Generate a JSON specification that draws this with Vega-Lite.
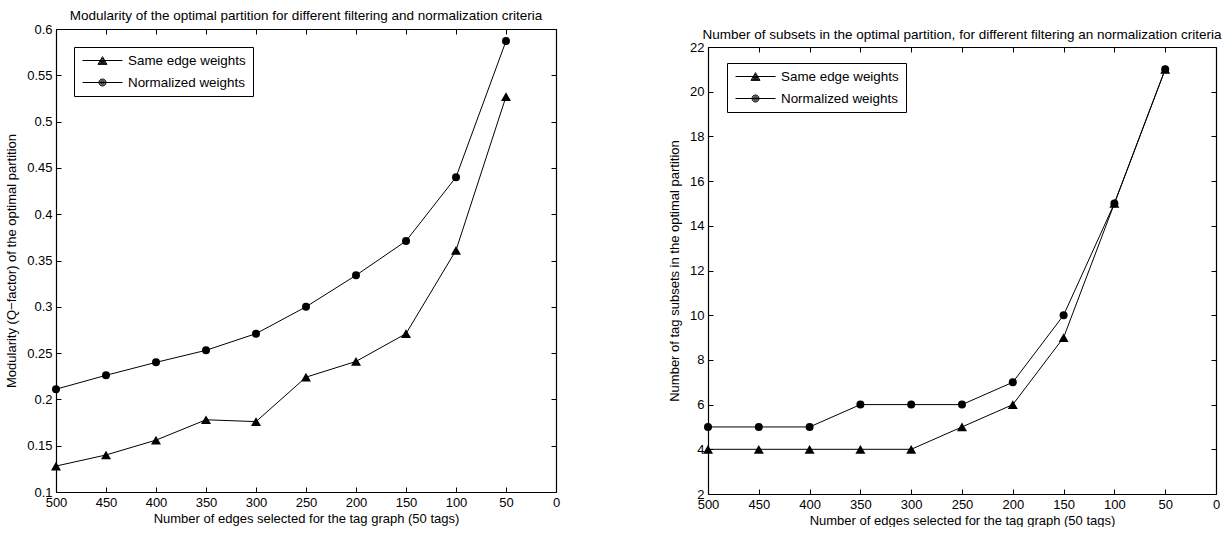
{
  "$schema": "https://vega.github.io/schema/vega-lite/v6.json",
  "background": "white",
  "padding": {"left": 5, "top": 8, "right": 0, "bottom": 0},
  "spacing": 108,
  "resolve": {"scale": {"shape": "independent"}, "legend": {"shape": "independent"}},
  "config": {
    "font": "Liberation Sans",
    "view": {"stroke": null},
    "axis": {
      "domain": true, "domainColor": "black", "domainWidth": 1.2, "grid": false,
      "tickSize": -5, "tickColor": "black", "tickWidth": 1,
      "labelFontSize": 13, "labelColor": "black", "labelPadding": 9,
      "labelFlush": false, "labelOverlap": false,
      "titleFontSize": 13, "titleFontWeight": "normal", "titleColor": "black", "titlePadding": 3
    },
    "axisY": {"titlePadding": 8},
    "title": {"fontSize": 13.5, "fontWeight": "normal", "color": "black", "offset": 1, "anchor": "middle"},
    "legend": {
      "orient": "none", "direction": "vertical",
      "strokeColor": "black", "fillColor": "white", "padding": 6.5, "rowPadding": 8,
      "symbolSize": 169, "symbolOffset": 15, "labelOffset": 18.5,
      "symbolFillColor": "black", "symbolStrokeColor": "black", "symbolStrokeWidth": 1, "symbolOpacity": 1,
      "labelFontSize": 13.4, "labelColor": "black", "labelLimit": 300
    }
  },
  "hconcat": [
    {
      "width": 500,
      "height": 463,
      "title": "Modularity of the optimal partition for different filtering and normalization criteria",
      "data": {"values": [
        {"edges": 500, "q": 0.128, "series": "Same edge weights"},
        {"edges": 450, "q": 0.140, "series": "Same edge weights"},
        {"edges": 400, "q": 0.156, "series": "Same edge weights"},
        {"edges": 350, "q": 0.178, "series": "Same edge weights"},
        {"edges": 300, "q": 0.176, "series": "Same edge weights"},
        {"edges": 250, "q": 0.224, "series": "Same edge weights"},
        {"edges": 200, "q": 0.241, "series": "Same edge weights"},
        {"edges": 150, "q": 0.271, "series": "Same edge weights"},
        {"edges": 100, "q": 0.361, "series": "Same edge weights"},
        {"edges": 50, "q": 0.527, "series": "Same edge weights"},
        {"edges": 500, "q": 0.211, "series": "Normalized weights"},
        {"edges": 450, "q": 0.226, "series": "Normalized weights"},
        {"edges": 400, "q": 0.240, "series": "Normalized weights"},
        {"edges": 350, "q": 0.253, "series": "Normalized weights"},
        {"edges": 300, "q": 0.271, "series": "Normalized weights"},
        {"edges": 250, "q": 0.300, "series": "Normalized weights"},
        {"edges": 200, "q": 0.334, "series": "Normalized weights"},
        {"edges": 150, "q": 0.371, "series": "Normalized weights"},
        {"edges": 100, "q": 0.440, "series": "Normalized weights"},
        {"edges": 50, "q": 0.587, "series": "Normalized weights"}
      ]},
      "layer": [
        {
          "mark": {"type": "line", "color": "black", "strokeWidth": 1},
          "encoding": {
            "x": {"field": "edges", "type": "quantitative",
                  "scale": {"domain": [0, 500], "reverse": true, "nice": false},
                  "axis": {"values": [0, 50, 100, 150, 200, 250, 300, 350, 400, 450, 500], "title": "Number of edges selected for the tag graph (50 tags)"}},
            "y": {"field": "q", "type": "quantitative",
                  "scale": {"domain": [0.1, 0.6], "nice": false, "zero": false},
                  "axis": {"values": [0.1, 0.15, 0.2, 0.25, 0.3, 0.35, 0.4, 0.45, 0.5, 0.55, 0.6], "format": ".2~f", "title": "Modularity (Q\u2212factor) of the optimal partition"}},
            "detail": {"field": "series"}
          }
        },
        {
          "transform": [{"filter": "datum.series === 'Same edge weights'"}],
          "mark": {"type": "point", "shape": "triangle-up", "filled": true, "opacity": 1, "color": "black", "strokeWidth": 0, "size": 100},
          "encoding": {
            "x": {"field": "edges", "type": "quantitative",
                  "axis": {"orient": "top", "labels": false, "title": null, "values": [0, 50, 100, 150, 200, 250, 300, 350, 400, 450, 500]}},
            "y": {"field": "q", "type": "quantitative",
                  "axis": {"orient": "right", "labels": false, "title": null, "values": [0.1, 0.15, 0.2, 0.25, 0.3, 0.35, 0.4, 0.45, 0.5, 0.55, 0.6]}}
          }
        },
        {
          "transform": [{"filter": "datum.series === 'Normalized weights'"}],
          "mark": {"type": "point", "shape": "circle", "filled": true, "opacity": 1, "color": "black", "strokeWidth": 0, "size": 64},
          "encoding": {
            "x": {"field": "edges", "type": "quantitative", "axis": null},
            "y": {"field": "q", "type": "quantitative", "axis": null}
          }
        },
        {
          "mark": {"type": "point", "filled": false, "opacity": 1, "color": "black", "strokeWidth": 1, "size": 0},
          "encoding": {
            "x": {"field": "edges", "type": "quantitative", "axis": null},
            "y": {"field": "q", "type": "quantitative", "axis": null},
            "shape": {"field": "series", "type": "nominal",
                      "scale": {"domain": ["Same edge weights", "Normalized weights"],
                                "range": ["M-3.077,0L3.077,0M0,-0.6L0.69,0.6L-0.69,0.6ZM0,-0.36L0.483,0.48L-0.483,0.48ZM0,-0.12L0.276,0.36L-0.276,0.36ZM0,0.08L0.104,0.26L-0.104,0.26Z",
                                          "M-3.077,0L3.077,0M0.54,0A0.54,0.54,0,1,1,-0.54,0A0.54,0.54,0,1,1,0.54,0ZM0.39,0A0.39,0.39,0,1,1,-0.39,0A0.39,0.39,0,1,1,0.39,0ZM0.23,0A0.23,0.23,0,1,1,-0.23,0A0.23,0.23,0,1,1,0.23,0ZM0.08,0A0.08,0.08,0,1,1,-0.08,0A0.08,0.08,0,1,1,0.08,0Z"]},
                      "legend": {"title": null, "legendX": 18, "legendY": 18}}
          }
        }
      ],
      "resolve": {"axis": {"x": "independent", "y": "independent"}}
    },
    {
      "width": 508,
      "height": 465,
      "title": {"text": "Number of subsets in the optimal partition, for different filtering an normalization criteria", "offset": -12},
      "data": {"values": [
        {"edges": 500, "n": 4, "series": "Same edge weights"},
        {"edges": 450, "n": 4, "series": "Same edge weights"},
        {"edges": 400, "n": 4, "series": "Same edge weights"},
        {"edges": 350, "n": 4, "series": "Same edge weights"},
        {"edges": 300, "n": 4, "series": "Same edge weights"},
        {"edges": 250, "n": 5, "series": "Same edge weights"},
        {"edges": 200, "n": 6, "series": "Same edge weights"},
        {"edges": 150, "n": 9, "series": "Same edge weights"},
        {"edges": 100, "n": 15, "series": "Same edge weights"},
        {"edges": 50, "n": 21, "series": "Same edge weights"},
        {"edges": 500, "n": 5, "series": "Normalized weights"},
        {"edges": 450, "n": 5, "series": "Normalized weights"},
        {"edges": 400, "n": 5, "series": "Normalized weights"},
        {"edges": 350, "n": 6, "series": "Normalized weights"},
        {"edges": 300, "n": 6, "series": "Normalized weights"},
        {"edges": 250, "n": 6, "series": "Normalized weights"},
        {"edges": 200, "n": 7, "series": "Normalized weights"},
        {"edges": 150, "n": 10, "series": "Normalized weights"},
        {"edges": 100, "n": 15, "series": "Normalized weights"},
        {"edges": 50, "n": 21, "series": "Normalized weights"}
      ]},
      "layer": [
        {
          "mark": {"type": "line", "color": "black", "strokeWidth": 1},
          "encoding": {
            "x": {"field": "edges", "type": "quantitative",
                  "scale": {"domain": [0, 500], "reverse": true, "nice": false},
                  "axis": {"values": [0, 50, 100, 150, 200, 250, 300, 350, 400, 450, 500], "title": "Number of edges selected for the tag graph (50 tags)"}},
            "y": {"field": "n", "type": "quantitative",
                  "scale": {"domain": [2, 22], "nice": false, "zero": false, "range": [465, 18]},
                  "axis": {"values": [2, 4, 6, 8, 10, 12, 14, 16, 18, 20, 22], "title": "Number of tag subsets in the optimal partition", "titleY": 241.5}},
            "detail": {"field": "series"}
          }
        },
        {
          "transform": [{"filter": "datum.series === 'Same edge weights'"}],
          "mark": {"type": "point", "shape": "triangle-up", "filled": true, "opacity": 1, "color": "black", "strokeWidth": 0, "size": 100},
          "encoding": {
            "x": {"field": "edges", "type": "quantitative",
                  "axis": {"orient": "top", "labels": false, "title": null, "offset": -18, "values": [0, 50, 100, 150, 200, 250, 300, 350, 400, 450, 500]}},
            "y": {"field": "n", "type": "quantitative",
                  "axis": {"orient": "right", "labels": false, "title": null, "values": [2, 4, 6, 8, 10, 12, 14, 16, 18, 20, 22]}}
          }
        },
        {
          "transform": [{"filter": "datum.series === 'Normalized weights'"}],
          "mark": {"type": "point", "shape": "circle", "filled": true, "opacity": 1, "color": "black", "strokeWidth": 0, "size": 64},
          "encoding": {
            "x": {"field": "edges", "type": "quantitative", "axis": null},
            "y": {"field": "n", "type": "quantitative", "axis": null}
          }
        },
        {
          "mark": {"type": "point", "filled": false, "opacity": 1, "color": "black", "strokeWidth": 1, "size": 0},
          "encoding": {
            "x": {"field": "edges", "type": "quantitative", "axis": null},
            "y": {"field": "n", "type": "quantitative", "axis": null},
            "shape": {"field": "series", "type": "nominal",
                      "scale": {"domain": ["Same edge weights", "Normalized weights"],
                                "range": ["M-3.077,0L3.077,0M0,-0.6L0.69,0.6L-0.69,0.6ZM0,-0.36L0.483,0.48L-0.483,0.48ZM0,-0.12L0.276,0.36L-0.276,0.36ZM0,0.08L0.104,0.26L-0.104,0.26Z",
                                          "M-3.077,0L3.077,0M0.54,0A0.54,0.54,0,1,1,-0.54,0A0.54,0.54,0,1,1,0.54,0ZM0.39,0A0.39,0.39,0,1,1,-0.39,0A0.39,0.39,0,1,1,0.39,0ZM0.23,0A0.23,0.23,0,1,1,-0.23,0A0.23,0.23,0,1,1,0.23,0ZM0.08,0A0.08,0.08,0,1,1,-0.08,0A0.08,0.08,0,1,1,0.08,0Z"]},
                      "legend": {"title": null, "legendX": 19, "legendY": 34}}
          }
        }
      ],
      "resolve": {"axis": {"x": "independent", "y": "independent"}}
    }
  ]
}
